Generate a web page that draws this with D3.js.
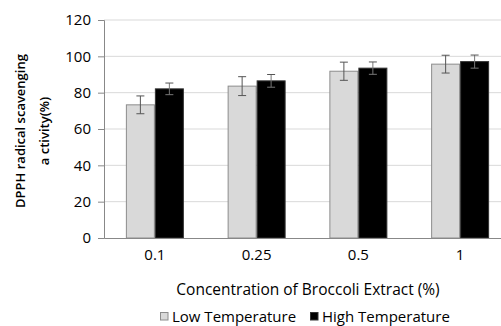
<!DOCTYPE html>
<html>
<head>
<meta charset="utf-8">
<script src="https://cdn.jsdelivr.net/npm/d3@7"></script>
<style>
  body { margin: 0; background: #fff; }
  text { font-family: "Open Sans", "Noto Sans", sans-serif; fill: #000; }
</style>
</head>
<body>
<svg id="chart" width="501" height="326"></svg>
<script>
// data
var categories = ["0.1", "0.25", "0.5", "1"];
var seriesNames = ["Low Temperature", "High Temperature"];
var lowValues = [73.3, 83.6, 91.8, 95.7];
var lowErrors = [4.9, 5.2, 5.0, 4.9];
var highValues = [82.1, 86.5, 93.5, 97.1];
var highErrors = [3.2, 3.5, 3.4, 3.6];
var yTicks = [0, 20, 40, 60, 80, 100, 120];

var colors = ["#d9d9d9", "#000000"];
var strokes = ["#8c8c8c", "#333333"];

var svg = d3.select("#chart");

var margin = { top: 20, right: -10, bottom: 88, left: 104 };
var width = 501 - margin.left - margin.right;
var height = 326 - margin.top - margin.bottom;

var g = svg.append("g").attr("transform", "translate(" + margin.left + "," + margin.top + ")");

var xScale = d3.scaleBand().domain(categories).range([0, width]).padding(0);
var step = xScale.bandwidth();
var xInner = d3.scaleBand().domain([0, 1]).range([step * 0.215, step * 0.785]).padding(0);

var yScale = d3.scaleLinear().domain([0, 120]).range([height, 0]);

// gridlines
g.append("g")
  .selectAll("line")
  .data(yTicks.slice(1))
  .enter()
  .append("line")
  .attr("x1", 0)
  .attr("x2", width)
  .attr("y1", d => yScale(d))
  .attr("y2", d => yScale(d))
  .attr("stroke", "#d9d9d9")
  .attr("stroke-width", 1);

// bars
var rows = categories.map((c, i) => ({
  cat: c,
  vals: [
    { s: 0, v: lowValues[i], e: lowErrors[i] },
    { s: 1, v: highValues[i], e: highErrors[i] }
  ]
}));

var groups = g.selectAll(".grp")
  .data(rows)
  .enter()
  .append("g")
  .attr("class", "grp")
  .attr("transform", d => "translate(" + xScale(d.cat) + ",0)");

groups.selectAll("rect")
  .data(d => d.vals)
  .enter()
  .append("rect")
  .attr("x", d => xInner(d.s) + 0.5)
  .attr("width", xInner.bandwidth() - 1)
  .attr("y", d => yScale(d.v))
  .attr("height", d => height - yScale(d.v))
  .attr("fill", d => colors[d.s])
  .attr("stroke", d => strokes[d.s])
  .attr("stroke-width", 1);

// error bars
var err = groups.selectAll(".err")
  .data(d => d.vals)
  .enter()
  .append("g")
  .attr("class", "err")
  .attr("stroke", "#555")
  .attr("stroke-width", 1);

var cx = d => xInner(d.s) + xInner.bandwidth() / 2;
err.append("line")
  .attr("x1", cx).attr("x2", cx)
  .attr("y1", d => yScale(d.v + d.e))
  .attr("y2", d => yScale(d.v - d.e))
  .attr("stroke", d => d.s === 1 ? "#777" : "#555");
err.append("line")
  .attr("x1", d => cx(d) - 4).attr("x2", d => cx(d) + 4)
  .attr("y1", d => yScale(d.v + d.e)).attr("y2", d => yScale(d.v + d.e));
err.append("line")
  .attr("x1", d => cx(d) - 4).attr("x2", d => cx(d) + 4)
  .attr("y1", d => yScale(d.v - d.e)).attr("y2", d => yScale(d.v - d.e))
  .attr("stroke", d => d.s === 1 ? "#777" : "#555");

// y axis
var yAxis = g.append("g")
  .call(d3.axisLeft(yScale).tickValues(yTicks).tickSize(6).tickPadding(7));
yAxis.selectAll("text").style("font-size", "15px");
yAxis.selectAll("line").attr("stroke", "#888");
yAxis.select(".domain").attr("stroke", "#888");

// x axis
var xAxis = g.append("g")
  .attr("transform", "translate(0," + height + ")")
  .call(d3.axisBottom(xScale).tickSize(0).tickPadding(11));
xAxis.selectAll("text").style("font-size", "15px");
xAxis.select(".domain").attr("stroke", "#888");

// axis titles
svg.append("text")
  .attr("x", 308)
  .attr("y", 290)
  .attr("dy", "0.35em")
  .attr("text-anchor", "middle")
  .style("font-size", "15.5px")
  .text("Concentration of Broccoli Extract (%)");

var yt = svg.append("text")
  .attr("transform", "translate(20,131) rotate(-90)")
  .attr("text-anchor", "middle")
  .style("font-size", "13px")
  .style("font-weight", "600");
yt.append("tspan").attr("x", 0).attr("dy", "0.35em").text("DPPH radical scavenging");
yt.append("tspan").attr("x", 0).attr("dy", "1.9em").text("a ctivity(%)");

// legend
var legend = svg.append("g").attr("transform", "translate(160,317)");
var legX = [0, 150];
var items = legend.selectAll("g")
  .data(seriesNames)
  .enter()
  .append("g")
  .attr("transform", (d, i) => "translate(" + legX[i] + ",0)");
items.append("rect")
  .attr("x", 0.5)
  .attr("y", -4.5)
  .attr("width", 7.5)
  .attr("height", 7.5)
  .attr("fill", (d, i) => colors[i])
  .attr("stroke", (d, i) => strokes[i]);
items.append("text")
  .attr("x", 12)
  .attr("dy", "0.35em")
  .style("font-size", "15px")
  .text(d => d);
</script>
</body>
</html>
